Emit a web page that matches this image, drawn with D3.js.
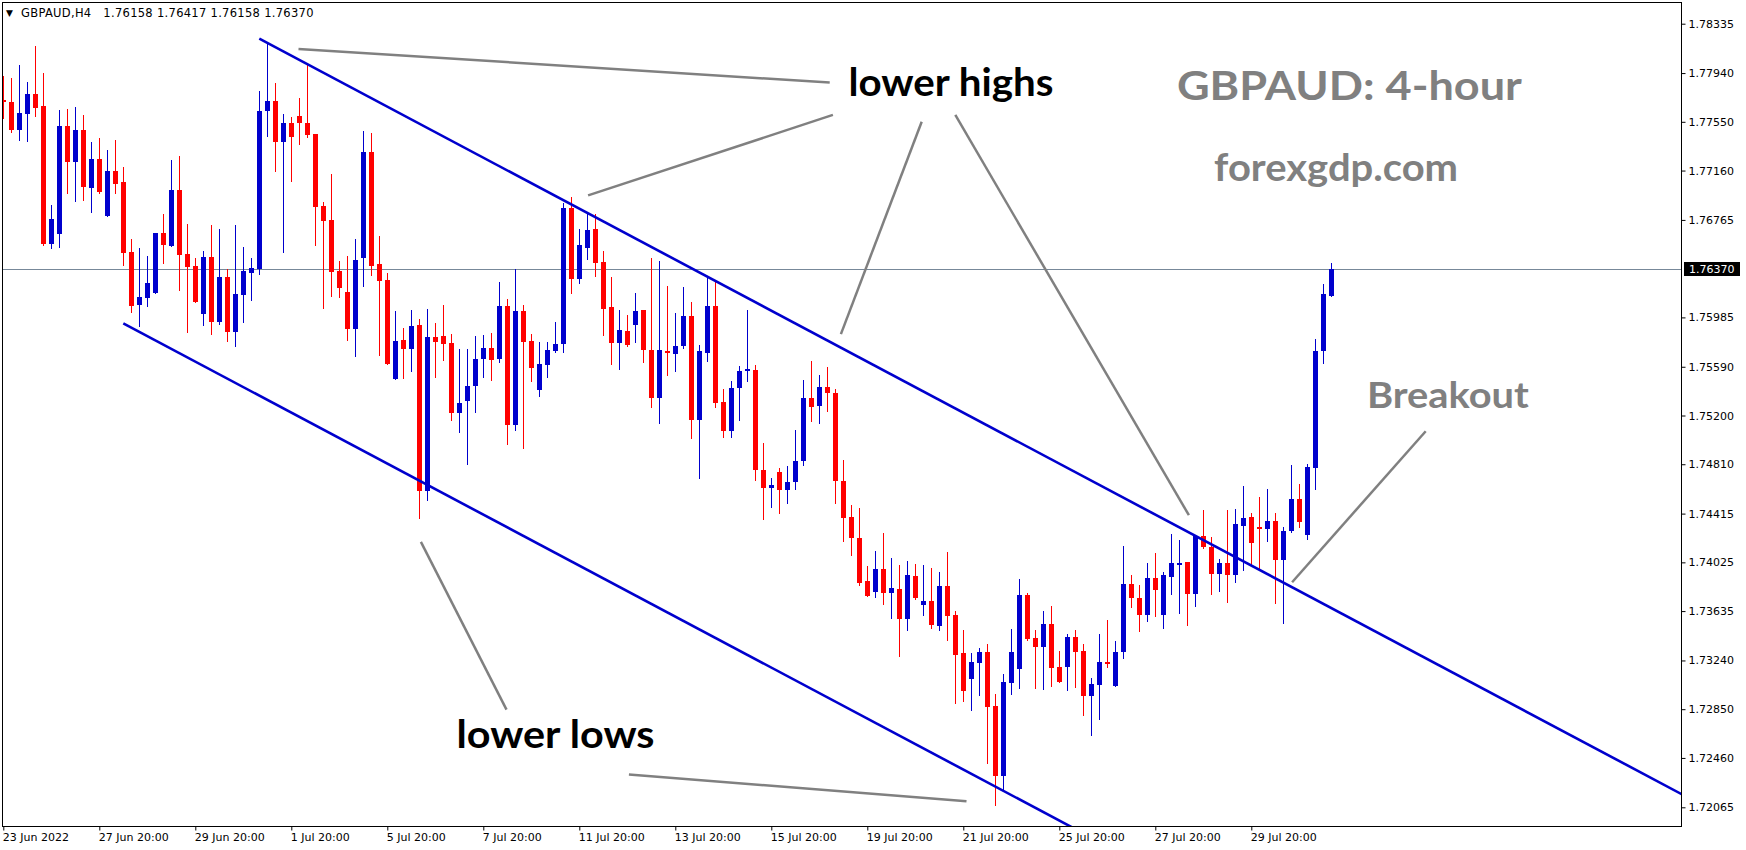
<!DOCTYPE html>
<html>
<head>
<meta charset="utf-8">
<script src="https://cdn.jsdelivr.net/npm/d3@7.9.0/dist/d3.min.js"></script>
<style>
  html, body { margin: 0; padding: 0; background: #fff; }
  svg { display: block; }
</style>
</head>
<body>
<svg id="chart"></svg>
<script>
// GBPAUD H4 candles, bar 0 = 23 Jun 2022 20:00
const symbol = "GBPAUD,H4";

const opens = [
  1.77723, 1.77710, 1.77488, 1.77616, 1.77774, 1.77678, 1.76573, 1.76654, 1.77517, 1.77231,
  1.77485, 1.77023, 1.77252, 1.76798, 1.77156, 1.77068, 1.76507, 1.76084, 1.76140, 1.76180,
  1.76659, 1.76557, 1.77004, 1.76491, 1.76394, 1.76012, 1.76466, 1.75948, 1.76306, 1.75868,
  1.76164, 1.76341, 1.76373, 1.77637, 1.77718, 1.77391, 1.77541, 1.77597, 1.77541, 1.77453,
  1.76876, 1.76763, 1.76354, 1.76186, 1.75892, 1.76461, 1.77309, 1.76410, 1.76282, 1.75491,
  1.75801, 1.75731, 1.75921, 1.74593, 1.75825, 1.75833, 1.75777, 1.75218, 1.75315, 1.75435,
  1.75651, 1.75737, 1.75651, 1.76074, 1.75122, 1.76034, 1.75793, 1.75408, 1.75603, 1.75715,
  1.75772, 1.76860, 1.76293, 1.76542, 1.76691, 1.76427, 1.76066, 1.75780, 1.75873, 1.75924,
  1.76042, 1.75721, 1.75339, 1.75713, 1.75696, 1.75760, 1.75993, 1.75167, 1.75704, 1.76073,
  1.75311, 1.75079, 1.75418, 1.75560, 1.75568, 1.74766, 1.74622, 1.74750, 1.74600, 1.74664,
  1.74833, 1.75343, 1.75274, 1.75432, 1.75383, 1.74678, 1.74389, 1.74223, 1.73876, 1.73790,
  1.73972, 1.73782, 1.73812, 1.73574, 1.73917, 1.73687, 1.73716, 1.73518, 1.73836, 1.73604,
  1.73299, 1.73093, 1.73221, 1.73307, 1.72874, 1.72315, 1.73061, 1.73173, 1.73764, 1.73419,
  1.73350, 1.73532, 1.73187, 1.73189, 1.73427, 1.73315, 1.72957, 1.73045, 1.73227, 1.73037,
  1.73307, 1.73855, 1.73743, 1.73606, 1.73901, 1.73606, 1.73909, 1.74013, 1.74029, 1.73775,
  1.74237, 1.74149, 1.73935, 1.74021, 1.73927, 1.74318, 1.74390, 1.74304, 1.74288, 1.74358,
  1.74040, 1.74272, 1.74534, 1.74240, 1.74777, 1.75713, 1.76158
];
const highs = [
  1.77913, 1.77902, 1.78006, 1.77870, 1.78159, 1.77942, 1.76884, 1.77645, 1.77653, 1.77669,
  1.77605, 1.77389, 1.77421, 1.77325, 1.77405, 1.77188, 1.76611, 1.76538, 1.76475, 1.76659,
  1.76811, 1.77244, 1.77276, 1.76731, 1.76458, 1.76515, 1.76723, 1.76691, 1.76376, 1.76723,
  1.76547, 1.76458, 1.77798, 1.78175, 1.77862, 1.77613, 1.77589, 1.77742, 1.78001, 1.77453,
  1.76908, 1.77132, 1.76434, 1.76475, 1.76611, 1.77477, 1.77461, 1.76635, 1.76338, 1.76033,
  1.75897, 1.76041, 1.75969, 1.76049, 1.75937, 1.76082, 1.75849, 1.75734, 1.75729, 1.75833,
  1.75841, 1.75857, 1.76266, 1.76130, 1.76370, 1.76082, 1.75849, 1.75785, 1.75785, 1.75945,
  1.76900, 1.76948, 1.76694, 1.76812, 1.76812, 1.76515, 1.76306, 1.76042, 1.76002, 1.76178,
  1.76042, 1.76459, 1.76435, 1.76234, 1.76017, 1.76225, 1.76105, 1.75768, 1.76298, 1.76266,
  1.75415, 1.75480, 1.75600, 1.76041, 1.75608, 1.74982, 1.74702, 1.74782, 1.74798, 1.75087,
  1.75488, 1.75640, 1.75528, 1.75592, 1.75415, 1.74846, 1.74485, 1.74456, 1.73999, 1.74116,
  1.74261, 1.74060, 1.74005, 1.74037, 1.74013, 1.74005, 1.73981, 1.73949, 1.74109, 1.73636,
  1.73483, 1.73299, 1.73339, 1.73371, 1.72970, 1.73131, 1.73491, 1.73892, 1.73780, 1.73483,
  1.73636, 1.73676, 1.73315, 1.73451, 1.73483, 1.73371, 1.73101, 1.73451, 1.73564, 1.73395,
  1.74157, 1.73925, 1.73847, 1.74021, 1.74101, 1.73949, 1.74253, 1.74205, 1.74029, 1.74237,
  1.74446, 1.74229, 1.74053, 1.74446, 1.74454, 1.74638, 1.74422, 1.74550, 1.74614, 1.74422,
  1.74310, 1.74807, 1.74654, 1.74815, 1.75809, 1.76250, 1.76417
];
const lows = [
  1.77579, 1.77472, 1.77407, 1.77399, 1.77600, 1.76565, 1.76541, 1.76549, 1.76982, 1.76920,
  1.76926, 1.76830, 1.76982, 1.76798, 1.76982, 1.76405, 1.76028, 1.75916, 1.76076, 1.76180,
  1.76421, 1.76557, 1.76204, 1.75868, 1.76108, 1.75924, 1.75852, 1.75932, 1.75796, 1.75755,
  1.75952, 1.76124, 1.76333, 1.77440, 1.77159, 1.76509, 1.77079, 1.77373, 1.77432, 1.76565,
  1.76060, 1.76156, 1.76148, 1.75804, 1.75675, 1.76237, 1.76325, 1.75683, 1.75611, 1.75491,
  1.75499, 1.75555, 1.74376, 1.74520, 1.75507, 1.75643, 1.75167, 1.75066, 1.74815, 1.75226,
  1.75507, 1.75488, 1.75627, 1.74970, 1.75082, 1.74938, 1.75475, 1.75355, 1.75507, 1.75707,
  1.75707, 1.76181, 1.76261, 1.76453, 1.76317, 1.75844, 1.75611, 1.75571, 1.75756, 1.75788,
  1.75627, 1.75266, 1.75138, 1.75523, 1.75560, 1.75744, 1.75023, 1.74702, 1.75640, 1.75271,
  1.75031, 1.75031, 1.75167, 1.75480, 1.74680, 1.74368, 1.74464, 1.74416, 1.74496, 1.74608,
  1.74801, 1.75153, 1.75137, 1.75234, 1.74496, 1.74199, 1.74087, 1.73846, 1.73758, 1.73750,
  1.73694, 1.73582, 1.73278, 1.73486, 1.73732, 1.73606, 1.73502, 1.73486, 1.73406, 1.72901,
  1.72917, 1.72845, 1.72965, 1.72419, 1.72080, 1.72211, 1.72973, 1.73021, 1.73406, 1.73021,
  1.73013, 1.73037, 1.73069, 1.73005, 1.73029, 1.72804, 1.72644, 1.72772, 1.73189, 1.73037,
  1.73259, 1.73671, 1.73478, 1.73558, 1.73598, 1.73502, 1.73775, 1.73622, 1.73526, 1.73679,
  1.74141, 1.73775, 1.73799, 1.73711, 1.73871, 1.73967, 1.74006, 1.73975, 1.74192, 1.73703,
  1.73542, 1.74264, 1.74304, 1.74208, 1.74614, 1.75619, 1.76158
];
const closes = [
  1.77707, 1.77488, 1.77621, 1.77774, 1.77664, 1.76573, 1.76771, 1.77517, 1.77231, 1.77485,
  1.77031, 1.77252, 1.76990, 1.77156, 1.77055, 1.76501, 1.76076, 1.76146, 1.76258, 1.76659,
  1.76565, 1.77004, 1.76485, 1.76389, 1.76108, 1.76466, 1.75948, 1.76306, 1.75868, 1.76170,
  1.76354, 1.76378, 1.77637, 1.77718, 1.77391, 1.77541, 1.77432, 1.77544, 1.77448, 1.76870,
  1.76758, 1.76349, 1.76221, 1.75892, 1.76442, 1.77309, 1.76397, 1.76277, 1.75611, 1.75793,
  1.75731, 1.75913, 1.74593, 1.75825, 1.75788, 1.75771, 1.75218, 1.75304, 1.75440, 1.75649,
  1.75737, 1.75643, 1.76074, 1.75122, 1.76034, 1.75788, 1.75579, 1.75609, 1.75721, 1.75769,
  1.76860, 1.76293, 1.76563, 1.76683, 1.76421, 1.76052, 1.75780, 1.75881, 1.75764, 1.76034,
  1.75721, 1.75339, 1.75721, 1.75699, 1.75760, 1.75993, 1.75167, 1.75720, 1.76073, 1.75303,
  1.75079, 1.75424, 1.75560, 1.75576, 1.74761, 1.74622, 1.74646, 1.74600, 1.74670, 1.74838,
  1.75343, 1.75266, 1.75432, 1.75378, 1.74672, 1.74376, 1.74223, 1.73862, 1.73758, 1.73972,
  1.73782, 1.73817, 1.73574, 1.73925, 1.73740, 1.73716, 1.73526, 1.73836, 1.73598, 1.73286,
  1.72997, 1.73227, 1.73307, 1.72869, 1.72315, 1.73066, 1.73307, 1.73764, 1.73414, 1.73350,
  1.73532, 1.73181, 1.73069, 1.73427, 1.73310, 1.72957, 1.73050, 1.73227, 1.73221, 1.73307,
  1.73855, 1.73743, 1.73606, 1.73901, 1.73807, 1.73925, 1.74021, 1.74021, 1.73775, 1.74237,
  1.74149, 1.73935, 1.74021, 1.73927, 1.74334, 1.74382, 1.74176, 1.74288, 1.74358, 1.74040,
  1.74277, 1.74534, 1.74344, 1.74791, 1.75713, 1.76170, 1.76370
];

// price scale labels (the one under the current price box is hidden)
const priceTicks = [1.78335, 1.77940, 1.77550, 1.77160, 1.76765, 1.75985, 1.75590, 1.75200,
  1.74810, 1.74415, 1.74025, 1.73635, 1.73240, 1.72850, 1.72460, 1.72065];

// time scale labels, every 12 bars
const timeTickBars = [0, 12, 24, 36, 48, 60, 72, 84, 96, 108, 120, 132, 144, 156];
const timeTickLabels = ["23 Jun 2022", "27 Jun 20:00", "29 Jun 20:00", "1 Jul 20:00", "5 Jul 20:00",
  "7 Jul 20:00", "11 Jul 20:00", "13 Jul 20:00", "15 Jul 20:00", "19 Jul 20:00", "21 Jul 20:00",
  "25 Jul 20:00", "27 Jul 20:00", "29 Jul 20:00"];

// channel lines as [bar, price] anchors
const channelUpper = [[32, 1.78215], [210, 1.72163]];
const channelLower = [[15, 1.75937], [140, 1.71687]];

// grey pointer lines drawn on the chart, [bar, price] anchors
const pointerLines = [
  [[36.9, 1.78133], [103.3, 1.77864]],
  [[73.1, 1.76961], [103.7, 1.77605]],
  [[104.7, 1.75851], [114.8, 1.77551]],
  [[119.0, 1.77605], [148.2, 1.74402]],
  [[161.1, 1.73866], [177.8, 1.75074]],
  [[52.2, 1.74189], [62.9, 1.72847]],
  [[78.2, 1.72328], [120.4, 1.72113]]
];

const width = 1746, height = 850;
const plot = {left: 2, top: 2, right: 1682, bottom: 826.5};
const bullColor = "#0000cd", bearColor = "#ff0000";
const axisFont = "'DejaVu Sans', Tahoma, sans-serif";
const noteFont = "Lato, 'Open Sans', sans-serif";

const svg = d3.select("#chart")
  .attr("width", width)
  .attr("height", height)
  .style("background", "#fff");

const x = d3.scaleLinear()
  .domain([0, 166])
  .range([3.3, 3.3 + 8 * 166]);

const y = d3.scaleLinear()
  .domain([1.72065, 1.78335])
  .range([807.3, 23.7]);

svg.append("defs").append("clipPath")
  .attr("id", "plot-clip")
  .append("rect")
  .attr("x", plot.left)
  .attr("y", plot.top)
  .attr("width", plot.right - plot.left)
  .attr("height", plot.bottom - plot.top);

const inner = svg.append("g").attr("clip-path", "url(#plot-clip)");

// current price line
const last = closes.length - 1;
inner.append("line")
  .attr("x1", plot.left)
  .attr("x2", plot.right)
  .attr("y1", Math.round(y(closes[last])) + 0.5)
  .attr("y2", Math.round(y(closes[last])) + 0.5)
  .attr("stroke", "#778899")
  .attr("stroke-width", 1);

// candles
const bars = d3.range(opens.length).map(i => ({
  i, o: opens[i], h: highs[i], l: lows[i], c: closes[i]
}));

const candle = inner.append("g")
  .attr("shape-rendering", "crispEdges")
  .selectAll("g")
  .data(bars)
  .enter()
  .append("g");

candle.append("line")
  .attr("x1", d => Math.round(x(d.i)) + 0.5)
  .attr("x2", d => Math.round(x(d.i)) + 0.5)
  .attr("y1", d => Math.round(y(d.h)))
  .attr("y2", d => Math.round(y(d.l)) + 1)
  .attr("stroke", d => d.c >= d.o ? bullColor : bearColor)
  .attr("stroke-width", 1);

candle.append("rect")
  .attr("x", d => Math.round(x(d.i)) - 2)
  .attr("width", 5)
  .attr("y", d => Math.round(y(Math.max(d.o, d.c))))
  .attr("height", d => Math.max(2, Math.round(y(Math.min(d.o, d.c))) - Math.round(y(Math.max(d.o, d.c)))))
  .attr("fill", d => d.c >= d.o ? bullColor : bearColor);

// channel
const line = d3.line().x(d => x(d[0])).y(d => y(d[1]));

inner.selectAll(".channel")
  .data([channelUpper, channelLower])
  .enter()
  .append("path")
  .attr("class", "channel")
  .attr("d", line)
  .attr("fill", "none")
  .attr("stroke", bullColor)
  .attr("stroke-width", 2.6);

inner.selectAll(".pointer")
  .data(pointerLines)
  .enter()
  .append("path")
  .attr("class", "pointer")
  .attr("d", line)
  .attr("fill", "none")
  .attr("stroke", "#808080")
  .attr("stroke-width", 2.5);

// text notes
const notes = [
  {text: "lower highs", bar: 105.65, price: 1.77760, size: 39, color: "#000", len: 205},
  {text: "GBPAUD: 4-hour", bar: 146.7, price: 1.77726, size: 40, color: "#808080", len: 345},
  {text: "forexgdp.com", bar: 151.35, price: 1.77079, size: 38, color: "#808080", len: 244},
  {text: "Breakout", bar: 170.45, price: 1.75262, size: 37, color: "#808080", len: 162},
  {text: "lower lows", bar: 56.65, price: 1.72543, size: 39, color: "#000", len: 198}
];

inner.selectAll(".note")
  .data(notes)
  .enter()
  .append("text")
  .attr("class", "note")
  .attr("x", d => x(d.bar))
  .attr("y", d => y(d.price))
  .attr("textLength", d => d.len)
  .attr("lengthAdjust", "spacingAndGlyphs")
  .style("font-family", noteFont)
  .style("font-weight", "bold")
  .style("font-size", d => d.size + "px")
  .attr("fill", d => d.color)
  .text(d => d.text);

// frame
svg.append("rect")
  .attr("x", plot.left + 0.5)
  .attr("y", plot.top + 0.5)
  .attr("width", plot.right - plot.left - 1)
  .attr("height", plot.bottom - plot.top - 0.5)
  .attr("fill", "none")
  .attr("stroke", "#000")
  .attr("shape-rendering", "crispEdges");

// price axis
const yAxis = svg.append("g")
  .attr("transform", `translate(${plot.right - 0.5},0)`)
  .call(d3.axisRight(y)
    .tickValues(priceTicks)
    .tickSize(4)
    .tickPadding(3)
    .tickFormat(d3.format(".5f")));
yAxis.select(".domain").remove();
yAxis.selectAll("text")
  .style("font-family", axisFont)
  .style("font-size", "11px")
  .attr("fill", "#000");

// current price box
const priceY = y(closes[last]);
svg.append("rect")
  .attr("x", plot.right + 2)
  .attr("y", Math.round(priceY) - 7)
  .attr("width", 56)
  .attr("height", 14)
  .attr("fill", "#000");
svg.append("text")
  .attr("x", plot.right + 7)
  .attr("y", priceY)
  .attr("dy", "0.36em")
  .style("font-family", axisFont)
  .style("font-size", "11px")
  .attr("fill", "#fff")
  .text(d3.format(".5f")(closes[last]));

// time axis
const xAxis = svg.append("g")
  .attr("transform", `translate(0,${plot.bottom})`)
  .call(d3.axisBottom(x)
    .tickValues(timeTickBars)
    .tickSize(4)
    .tickPadding(3)
    .tickFormat((d, i) => timeTickLabels[i]));
xAxis.select(".domain").remove();
xAxis.selectAll("text")
  .attr("text-anchor", "start")
  .attr("dx", -1)
  .style("font-family", axisFont)
  .style("font-size", "11px")
  .attr("fill", "#000");

// header
svg.append("text")
  .attr("x", 6)
  .attr("y", 16)
  .style("font-family", axisFont)
  .style("font-size", "9px")
  .attr("fill", "#000")
  .text("\u25BC");

const fmt = d3.format(".5f");
svg.append("text")
  .attr("x", 21)
  .attr("y", 16.5)
  .style("font-family", axisFont)
  .style("font-size", "11.5px")
  .style("letter-spacing", "0.3px")
  .attr("fill", "#000")
  .text(`${symbol}\u00a0\u00a0 ${fmt(opens[last])} ${fmt(highs[last])} ${fmt(lows[last])} ${fmt(closes[last])}`);
</script>
</body>
</html>
